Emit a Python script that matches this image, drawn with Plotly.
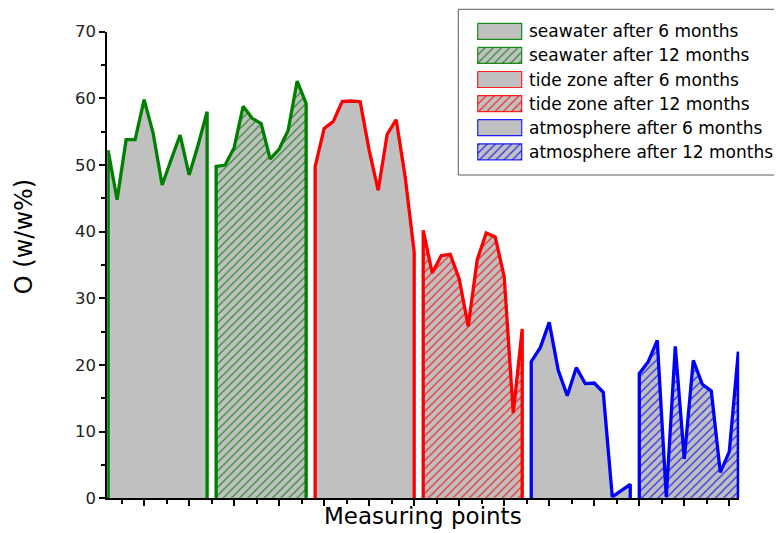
import plotly.graph_objects as go

# ---------------- data ----------------
series_names = [
    "seawater after 6 months",
    "seawater after 12 months",
    "tide zone after 6 months",
    "tide zone after 12 months",
    "atmosphere after 6 months",
    "atmosphere after 12 months",
]
seawater_6 = [52.2, 44.8, 53.8, 53.8, 59.8, 54.8, 47.0, 50.8, 54.5, 48.5, 53.0, 58.0]
seawater_12 = [49.8, 50.0, 52.6, 58.8, 57.0, 56.2, 50.9, 52.4, 55.2, 62.6, 59.2]
tide_6 = [49.8, 55.5, 56.5, 59.5, 59.6, 59.5, 52.2, 46.2, 54.6, 56.8, 48.2, 36.9]
tide_12 = [40.2, 33.8, 36.4, 36.6, 32.9, 25.8, 35.8, 39.8, 39.2, 33.2, 12.8, 25.4]
atmosphere_6 = [20.5, 22.6, 26.4, 19.2, 15.4, 19.6, 17.2, 17.3, 15.9, 0.2, 1.1, 2.1]
atmosphere_12 = [18.7, 20.5, 23.7, 0.2, 22.8, 5.9, 20.7, 17.1, 16.1, 3.9, 7.0, 22.0]
series_values = [seawater_6, seawater_12, tide_6, tide_12, atmosphere_6, atmosphere_12]

y_tick_values = [0, 10, 20, 30, 40, 50, 60, 70]
x_title = "Measuring points"
y_title = "O (w/w%)"

# ---------------- styles ----------------
colors = ["#008000", "#008000", "#FF0000", "#FF0000", "#0000FF", "#0000FF"]
border_colors = ["rgba(0,128,0,0.9)", "rgba(0,128,0,0.9)",
                 "rgba(255,0,0,0.85)", "rgba(255,0,0,0.85)",
                 "rgba(0,0,255,0.85)", "rgba(0,0,255,0.85)"]
hatched = [False, True, False, True, False, True]
GRAY = "#C0C0C0"
FONT = "DejaVu Sans"

# the page body adds an 8px margin, so the figure is drawn 8px smaller and
# every reference pixel position is shifted by that offset
PAGE_OFF = 8
W, H = 782 - PAGE_OFF, 533 - PAGE_OFF


def px(v):
    return v - PAGE_OFF


PLOT_L, PLOT_R, PLOT_T, PLOT_B = px(107.2), px(739.2), px(31.7), px(498.3)


def pattern(i):
    if hatched[i]:
        return dict(shape="/", bgcolor=GRAY, fgcolor=colors[i], fgopacity=0.8,
                    size=5.8, solidity=0.2, fillmode="replace")
    return dict(shape="")


fig = go.Figure()

# data traces: consecutive measuring point numbers, each block closed down to zero
start = 1
for i, vals in enumerate(series_values):
    xs = list(range(start, start + len(vals)))
    start += len(vals)
    x_path = [xs[0]] + xs + [xs[-1]]
    y_path = [0] + vals + [0]
    fig.add_trace(go.Scatter(
        x=x_path, y=y_path, mode="lines", fill="tozeroy", fillcolor=GRAY,
        fillpattern=pattern(i),
        line=dict(color=colors[i], width=3.3),
        name=series_names[i], showlegend=False, hoverinfo="skip",
    ))

n_points = start - 1

# ---------------- custom legend (drawn on an overlay pixel axis) ----------------
LEG_BOX = (px(458.3), px(9.3), px(778.3), px(175.0))
SW_X0, SW_W, SW_H = px(477.7), 44.0, 16.0
ROW0, ROW_STEP = px(31.3), 24.1
TEXT_X = px(527.0)

for i, name in enumerate(series_names):
    cy = ROW0 + i * ROW_STEP
    x0, x1 = SW_X0, SW_X0 + SW_W
    y0, y1 = cy - SW_H / 2, cy + SW_H / 2
    fig.add_trace(go.Scatter(
        x=[x0, x1, x1, x0, x0], y=[y0, y0, y1, y1, y0],
        xaxis="x2", yaxis="y2", mode="lines", fill="toself", fillcolor=GRAY,
        fillpattern=pattern(i), line=dict(color=border_colors[i], width=1.2),
        showlegend=False, hoverinfo="skip",
    ))
    fig.add_annotation(
        x=TEXT_X / W, y=1 - cy / H, xref="paper", yref="paper",
        text=name, showarrow=False, xanchor="left", yanchor="middle",
        font=dict(family=FONT, size=17, color="#000000"),
    )

fig.add_shape(type="rect", xref="paper", yref="paper",
              x0=LEG_BOX[0] / W, x1=LEG_BOX[2] / W,
              y0=1 - LEG_BOX[3] / H, y1=1 - LEG_BOX[1] / H,
              line=dict(color="#5a5a5a", width=1), fillcolor="white", layer="below")

# axis titles
fig.add_annotation(x=(PLOT_L + PLOT_R) / 2 / W, y=1 - px(516.0) / H, xref="paper", yref="paper",
                   text=x_title, showarrow=False, xanchor="center", yanchor="middle",
                   font=dict(family=FONT, size=23, color="#000000"))
fig.add_annotation(x=px(23.5) / W, y=1 - px(236.7) / H, xref="paper", yref="paper",
                   text=y_title, showarrow=False, xanchor="center", yanchor="middle",
                   textangle=-90, font=dict(family=FONT, size=24, color="#000000"))

fig.update_layout(
    width=W, height=H,
    margin=dict(l=0, r=0, t=0, b=0),
    paper_bgcolor="white", plot_bgcolor="rgba(0,0,0,0)",
    showlegend=False,
    xaxis=dict(
        domain=[PLOT_L / W, PLOT_R / W], range=[0.9, n_points + 0.1],
        showgrid=False, zeroline=False, showline=True, linecolor="black", linewidth=2,
        ticks="outside", ticklen=6, tickwidth=1.5, tickcolor="black",
        tick0=0, dtick=5, showticklabels=False,
        minor=dict(ticks="outside", ticklen=4, tickwidth=1.5, tickcolor="black", dtick=2.5, tick0=0),
        automargin=False, fixedrange=True,
    ),
    yaxis=dict(
        domain=[1 - PLOT_B / H, 1 - PLOT_T / H], range=[0, 70],
        showgrid=False, zeroline=False, showline=True, linecolor="black", linewidth=2,
        ticks="outside", ticklen=6, tickwidth=1.5, tickcolor="black",
        tickmode="array", tickvals=y_tick_values, ticktext=[str(v) for v in y_tick_values],
        tickfont=dict(family=FONT, size=16.5, color="#222222"),
        minor=dict(ticks="outside", ticklen=4, tickwidth=1.5, tickcolor="black", dtick=5, tick0=0),
        automargin=False, fixedrange=True,
    ),
    xaxis2=dict(domain=[0, 1], range=[0, W], visible=False, anchor="y2", fixedrange=True),
    yaxis2=dict(domain=[0, 1], range=[H, 0], visible=False, anchor="x2", fixedrange=True),
)

fig.write_html("out.html")
